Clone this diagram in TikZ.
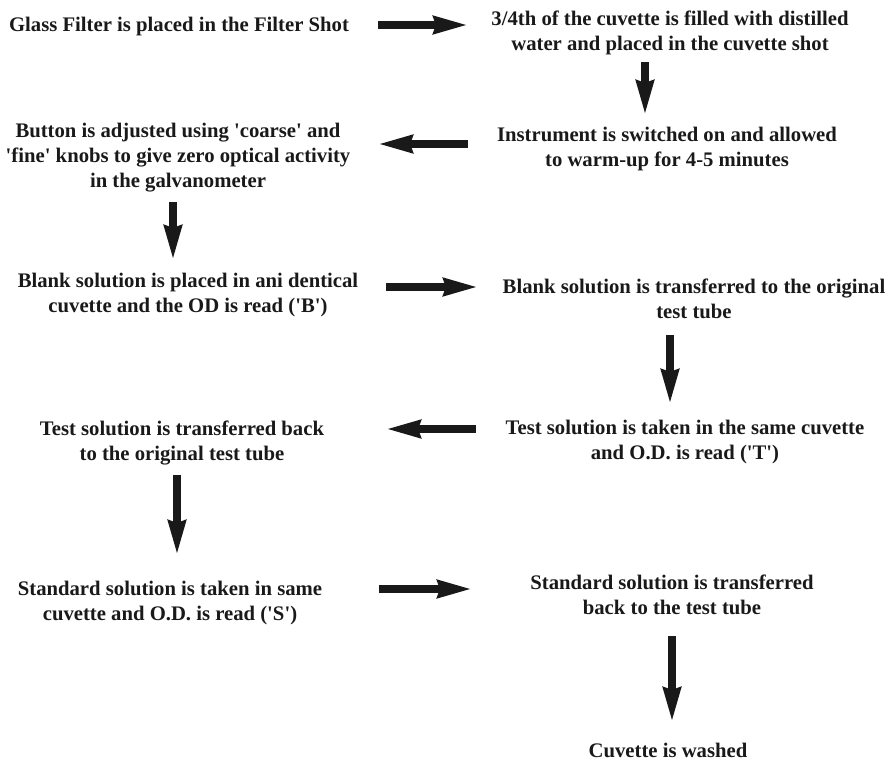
\documentclass[tikz,border=0pt]{standalone}
\usepackage{fontspec}
\setmainfont{Liberation Serif}
\usetikzlibrary{arrows.meta}
\definecolor{ink}{gray}{0.1}
\newcommand{\sq}{\textquotesingle}
\begin{document}
\begin{tikzpicture}[x=1pt,y=-1pt,
  stepbox/.style={align=center,inner sep=0pt,text=ink,
    font=\fontsize{20.7}{25}\selectfont\bfseries},
  flow/.style={draw=ink,line width=7.5pt,
    -{Stealth[length=34pt,width=17pt,inset=2pt]}}]
\useasboundingbox (0,0) rectangle (891,762);

% process steps
\node[stepbox] (s1)  at (179,27)   {Glass Filter is placed in the Filter Shot};
\node[stepbox] (s2)  at (670,32.5) {3/4th of the cuvette is filled with distilled\\water and placed in the cuvette shot};
\node[stepbox] (s3)  at (667,149.5){Instrument is switched on and allowed\\to warm-up for 4-5 minutes};
\node[stepbox] (s4)  at (178,158)  {Button is adjusted using \sq coarse\sq{} and\\\sq fine\sq{} knobs to give zero optical activity\\in the galvanometer};
\node[stepbox] (s5)  at (188,295.5){Blank solution is placed in ani dentical\\cuvette and the OD is read (\sq B\sq)};
\node[stepbox] (s6)  at (694,298.5){Blank solution is transferred to the original\\test tube};
\node[stepbox] (s7)  at (685,442.5){Test solution is taken in the same cuvette\\and O.D. is read (\sq T\sq)};
\node[stepbox] (s8)  at (182,442.5){Test solution is transferred back\\to the original test tube};
\node[stepbox] (s9)  at (170,603.5){Standard solution is taken in same\\cuvette and O.D. is read (\sq S\sq)};
\node[stepbox] (s10) at (672,594.5){Standard solution is transferred\\back to the test tube};
\node[stepbox] (s11) at (668,750)  {Cuvette is washed};

% arrow end points
\coordinate (a1s) at (378,25);  \coordinate (a1e) at (468,25);
\coordinate (a2s) at (645,62);  \coordinate (a2e) at (645,115);
\coordinate (a3s) at (468,144); \coordinate (a3e) at (378,144);
\coordinate (a4s) at (173,202); \coordinate (a4e) at (173,260);
\coordinate (a5s) at (386,287); \coordinate (a5e) at (478,287);
\coordinate (a6s) at (670,335); \coordinate (a6e) at (670,404);
\coordinate (a7s) at (476,429); \coordinate (a7e) at (386,429);
\coordinate (a8s) at (177,475); \coordinate (a8e) at (177,555);
\coordinate (a9s) at (379,589); \coordinate (a9e) at (472,589);
\coordinate (a10s) at (672,636); \coordinate (a10e) at (672,722);

% connectors
\draw[flow] (a1s) -- (a1e);
\draw[flow] (a2s) -- (a2e);
\draw[flow] (a3s) -- (a3e);
\draw[flow] (a4s) -- (a4e);
\draw[flow] (a5s) -- (a5e);
\draw[flow] (a6s) -- (a6e);
\draw[flow] (a7s) -- (a7e);
\draw[flow] (a8s) -- (a8e);
\draw[flow] (a9s) -- (a9e);
\draw[flow] (a10s) -- (a10e);
\end{tikzpicture}
\end{document}
